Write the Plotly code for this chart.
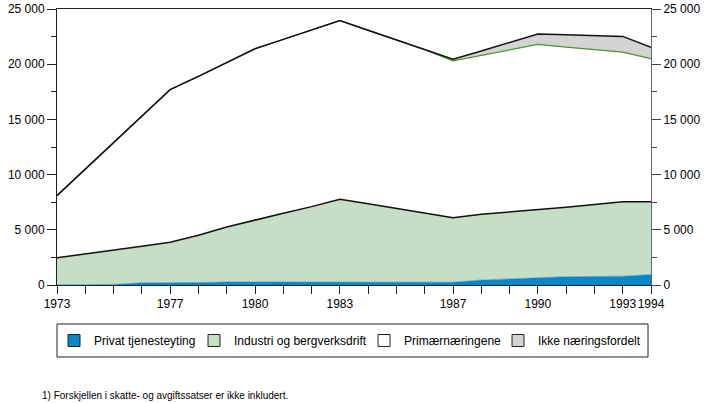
import plotly.graph_objects as go

years = list(range(1973, 1995))

privat = [20, 30, 50, 200, 200, 220, 280, 280, 280, 280, 280, 270, 260, 250,
          250, 450, 580, 650, 750, 750, 800, 950]
industri = [2450, 2770, 3100, 3300, 3670, 4280, 4970, 5610, 6220, 6820, 7480,
            7080, 6670, 6270, 5850, 5950, 6040, 6140, 6300, 6550, 6750, 6600]
primaer = [5630, 7700, 9750, 11800, 13830, 14400, 14900, 15510, 15750, 16000,
           16190, 15720, 15270, 14800, 14200, 14400, 14680, 15010, 14500, 14050,
           13550, 12950]
ikke = [0, 0, 0, 0, 0, 0, 0, 0, 0, 0, 0, 0, 0, 0,
        150, 400, 700, 940, 1120, 1250, 1420, 1030]

names = ["Privat tjenesteyting", "Industri og bergverksdrift",
         "Primærnæringene", "Ikke næringsfordelt"]

x_tickvals = [1973, 1977, 1980, 1983, 1987, 1990, 1993, 1994]
x_ticktext = ["1973", "1977", "1980", "1983", "1987", "1990", "1993", "1994"]
y_tickvals = [0, 5000, 10000, 15000, 20000, 25000]
y_ticktext = ["0", "5 000", "10 000", "15 000", "20 000", "25 000"]

fill_cols = ["#0a86c6", "#c6ddc6", "#ffffff", "#d3d3d3"]
line_cols = ["#0a86c6", "#111111", "#4f8f3a", "#111111"]
line_w = [0.5, 1.5, 1.2, 1.5]
legend_w = [95, 125, 89, 100]

fig = go.Figure()
for vals, nm, fc, lc, lw in zip([privat, industri, primaer, ikke], names,
                                fill_cols, line_cols, line_w):
    fig.add_trace(go.Scatter(
        x=years, y=vals, name=nm, stackgroup="one", mode="lines",
        fillcolor=fc, line=dict(color=lc, width=lw), showlegend=False,
        hoverinfo="skip"))

# legend entries
for nm, fc, lwid in zip(names, fill_cols, legend_w):
    fig.add_trace(go.Bar(x=[None], y=[None], name=nm, legendwidth=lwid,
                         marker=dict(color=fc, line=dict(color="#222222", width=1))))

# invisible trace for right axis
fig.add_trace(go.Scatter(x=[years[0]], y=[0], yaxis="y2", mode="markers",
                         marker=dict(opacity=0), showlegend=False, hoverinfo="skip"))

font_fam = "Liberation Sans, Arial, sans-serif"

fig.update_layout(
    width=709, height=403,
    margin=dict(l=57, r=58, t=9, b=118, autoexpand=False),
    paper_bgcolor="white", plot_bgcolor="white",
    font=dict(family=font_fam, size=12, color="black"),
    showlegend=True,
    legend=dict(orientation="h", x=-0.005, xanchor="left", y=-0.2011,
                yanchor="middle", bgcolor="rgba(0,0,0,0)", borderwidth=0,
                font=dict(size=12), traceorder="normal"),
    xaxis=dict(range=[1973, 1994], tickvals=x_tickvals, ticktext=x_ticktext,
               tickangle=0, ticks="outside", ticklen=8, tickcolor="#222",
               showgrid=False, zeroline=False, showline=True, linecolor="#222",
               linewidth=1, mirror=True, automargin=False,
               minor=dict(dtick=1, tick0=1973, ticks="outside", ticklen=8,
                          tickcolor="#222", showgrid=False)),
    yaxis=dict(range=[0, 25000], tickvals=y_tickvals, ticktext=y_ticktext,
               ticks="outside", ticklen=9, tickcolor="#222", showgrid=False,
               zeroline=False, showline=True, linecolor="#222", linewidth=1,
               automargin=False,
               minor=dict(dtick=2500, ticks="outside", ticklen=5,
                          tickcolor="#222", showgrid=False)),
    yaxis2=dict(range=[0, 25000], overlaying="y", side="right",
                tickvals=y_tickvals, ticktext=y_ticktext, automargin=False,
                ticks="outside", ticklen=9, tickcolor="#444", showgrid=False,
                zeroline=False, showline=True, linecolor="#666", linewidth=1,
                minor=dict(dtick=2500, ticks="outside", ticklen=5,
                           tickcolor="#444", showgrid=False)),
    shapes=[dict(type="rect", xref="paper", yref="paper",
                 x0=0, x1=0.995, y0=-0.2609, y1=-0.1413,
                 line=dict(color="#222", width=1), fillcolor="rgba(0,0,0,0)")],
    annotations=[dict(text="1) Forskjellen i skatte- og avgiftssatser er ikke inkludert.",
                      xref="paper", yref="paper", x=-0.0286, y=-0.3986,
                      xanchor="left", yanchor="middle", showarrow=False,
                      font=dict(size=10))],
)

fig.write_html("out.html",
               config={"displayModeBar": False},
               post_script="document.body.style.margin='0px';document.body.style.overflow='hidden';")
